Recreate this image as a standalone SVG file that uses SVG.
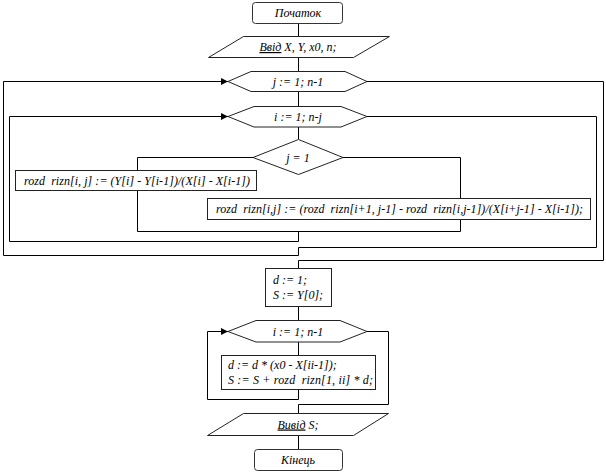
<svg xmlns="http://www.w3.org/2000/svg" width="606" height="473" viewBox="0 0 606 473">
<defs>
<style>
.shape{fill:#fff;stroke:#222;stroke-width:1}
.term{fill:#fff;stroke:#333;stroke-width:1}
.conn{fill:none;stroke:#000;stroke-width:1}
text{font-family:"Liberation Serif","Times New Roman",serif;font-style:italic;font-size:12px;fill:#000;white-space:pre}
.c{text-anchor:middle}
.u{text-decoration:underline}
</style>
<marker id="arr" markerUnits="userSpaceOnUse" markerWidth="7" markerHeight="7" refX="7" refY="3.5" orient="auto">
<path d="M0,0 L7,3.5 L0,7 Z" fill="#000"/>
</marker>
</defs>
<rect width="606" height="473" fill="#fff"/>
<g id="connectors">
<path class="conn" d="M298.5,23 V36"/>
<path class="conn" d="M298.5,57 V71"/>
<path class="conn" d="M298.5,91 V106"/>
<path class="conn" d="M298.5,127 V139"/>
<path class="conn" d="M253,157.5 H137.5 V231.5"/>
<path class="conn" d="M343,157.5 H460.5 V231.5"/>
<path class="conn" d="M137.5,231.5 H460.5"/>
<path class="conn" d="M298.5,231.5 V241.5 H9.5 V116.5 H228" marker-end="url(#arr)"/>
<path class="conn" d="M367,116.5 H596.5 V247.5 H298.5 V255.5 H3.5 V81.5 H228" marker-end="url(#arr)"/>
<path class="conn" d="M367,81.5 H603.5 V260.5 H298.5 V268"/>
<path class="conn" d="M298.5,307 V320"/>
<path class="conn" d="M298.5,342 V355"/>
<path class="conn" d="M298.5,389 V399.5 H207.5 V331.5 H228" marker-end="url(#arr)"/>
<path class="conn" d="M367,331.5 H388.5 V404.5 H298.5 V413"/>
<path class="conn" d="M298.5,435 V449"/>
</g>
<g id="start">
<rect class="term" x="252.5" y="2.5" width="90" height="21" rx="3"/>
<text class="c" x="298" y="17">Початок</text>
</g>
<g id="input">
<polygon class="shape" points="243.5,36.5 389.5,36.5 353.5,57.5 208.5,57.5"/>
<text class="c" x="298" y="51"><tspan class="u">Ввід</tspan> X, Y, x0, n;</text>
</g>
<g id="loop-j">
<polygon class="shape" points="228,81.5 251,71.5 345,71.5 367,81.5 345,91.5 251,91.5"/>
<text class="c" x="298" y="85.5">j := 1; n-1</text>
</g>
<g id="loop-i">
<polygon class="shape" points="228,116.5 254,106.5 341,106.5 367,116.5 341,127 254,127"/>
<text class="c" x="298" y="121">i := 1; n-j</text>
</g>
<g id="cond">
<polygon class="shape" points="298.5,139.5 343,157.5 298.5,174.5 253,157.5"/>
<text class="c" x="298" y="161.5">j = 1</text>
</g>
<g id="assign-1">
<rect class="shape" x="15.5" y="170.5" width="241" height="20" stroke="#000"/>
<text x="24" y="184.5" textLength="226" lengthAdjust="spacing">rozd  rizn[i, j] := (Y[i] - Y[i-1])/(X[i] - X[i-1])</text>
</g>
<g id="assign-2">
<rect class="shape" x="207.5" y="198.5" width="383" height="21" stroke="#000"/>
<text x="216" y="213" textLength="367" lengthAdjust="spacing">rozd  rizn[i,j] := (rozd  rizn[i+1, j-1] - rozd  rizn[i,j-1])/(X[i+j-1] - X[i-1]);</text>
</g>
<g id="init">
<rect class="shape" x="265.5" y="268.5" width="66" height="38" stroke="#000"/>
<text x="273" y="284">d := 1;</text>
<text x="273" y="299">S := Y[0];</text>
</g>
<g id="loop-i2">
<polygon class="shape" points="228,331.5 256,320.5 340,320.5 367,331.5 340,342 256,342"/>
<text class="c" x="298" y="335.5">i := 1; n-1</text>
</g>
<g id="body">
<rect class="shape" x="221.5" y="355.5" width="154" height="34" stroke="#000"/>
<text x="228" y="369">d := d * (x0 - X[ii-1]);</text>
<text x="228" y="384" textLength="145" lengthAdjust="spacing">S := S + rozd  rizn[1, ii] * d;</text>
</g>
<g id="output">
<polygon class="shape" points="243.5,413.5 388.5,413.5 353.5,435.5 207.5,435.5"/>
<text class="c" x="298" y="428.5"><tspan class="u">Вивід</tspan> S;</text>
</g>
<g id="end">
<rect class="term" x="254.5" y="449.5" width="88" height="21" rx="3"/>
<text class="c" x="298" y="464">Кінець</text>
</g>
</svg>
